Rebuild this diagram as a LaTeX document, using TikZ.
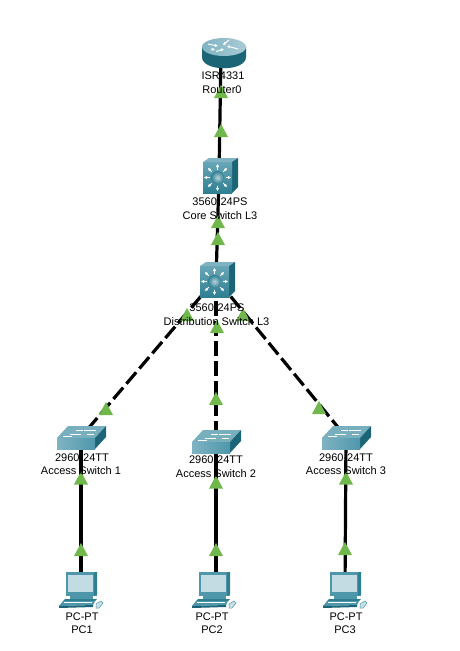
\documentclass[tikz,border=0pt]{standalone}
\usepackage{fontspec}
\usetikzlibrary{arrows.meta}
\setmainfont{Liberation Sans}
\definecolor{triG}{HTML}{70B84C}
\definecolor{tealA}{HTML}{2F7F92}
\definecolor{tealB}{HTML}{4E97AB}
\definecolor{tealC}{HTML}{7FB3C2}
\definecolor{tealD}{HTML}{1B6577}
\definecolor{tealL}{HTML}{A9CBD5}
\tikzset{
  x=1pt,y=-1pt,
  link/.style={line width=3.2pt,black},
  dlink/.style={line width=3.2pt,black,dash pattern=on 15pt off 5pt},
  dev/.style={inner sep=0pt,outer sep=0pt,minimum width=#1,minimum height=20pt},
  lbl/.style={font=\fontsize{11}{12}\selectfont,inner sep=0pt,text=black},
  tinyarrow/.style={white,line width=1pt,-{Latex[length=3pt,width=3.5pt]}},
  tri/.pic={\fill[triG] (0,-6.5) -- (7,6.5) -- (-7,6.5) -- cycle;},
  routericon/.pic={
    \shade[left color=tealD,middle color=tealL!70!white,right color=tealD] (-22,-5) -- (-22,5) .. controls (-22,20) and (22,20) .. (22,5) -- (22,-5) -- cycle;
    \shade[left color=tealC,right color=tealL] (0,-5) ellipse[x radius=22,y radius=9];
    \foreach \a/\b/\c/\d in {-16/-8/-6/-6, 14/-3/3/-6, -8/-0.5/0/-3, 5/-12/-1/-7, -13/-3/-9/-2}{
      \draw[tinyarrow] (\a,\b) -- (\c,\d);}
  },
  lthree/.pic={
    \fill[tealC] (-15,-15) -- (-9,-19) -- (20,-19) -- (14,-15) -- cycle;
    \fill[tealD] (14,-15) -- (20,-19) -- (20,10) -- (14,16) -- cycle;
    \shade[top color=tealB!85!white,bottom color=tealA] (-15,-15) rectangle (14,16);
    \foreach \a in {0,45,...,315}{
      \draw[tinyarrow] (-0.5,0.5) ++(\a:8) -- ++(\a:5.5);}
    \shade[inner color=tealL!80!white,outer color=tealA] (-0.5,0.5) circle[radius=6.5];
  },
  sw/.pic={
    \fill[tealC!85!tealB] (-24,1) -- (-13,-11) -- (25,-11) -- (14,1) -- cycle;
    \fill[tealD] (14,1) -- (25,-11) -- (25,0) -- (14,12) -- cycle;
    \shade[left color=tealC,right color=tealB] (-24,1) rectangle (14,12);
    \draw[white,line width=.8pt] (-11,-3) -- (0,-3) (-18,-1) -- (-9,-1) (3,-7) -- (15,-7) (6,-3) -- (13,-3) (-5,-7) -- (2,-7);
  },
  pcicon/.pic={
    \fill[tealB] (-15,-18) -- (16,-18) -- (16,6) -- (-15,6) -- cycle;
    \fill[tealA] (13,-18) -- (16,-18) -- (16,4) -- (13,6) -- cycle;
    \fill[tealL!70!white] (-13,-15) rectangle (12,2);
    \fill[tealB] (-11,6) -- (12,6) -- (12,9) -- (-11,9) -- cycle;
    \fill[tealA] (-16,9) -- (16,9) -- (14,11) -- (-18,11) -- cycle;
    \fill[tealB] (-18,11) -- (14,11) -- (12,15) -- (-22,16) -- cycle;
    \fill[tealD] (-22,16) -- (12,15) -- (12,17) -- (-22,18) -- cycle;
    \draw[white] (-17,12.5) -- (11,12.5);
    \fill[tealL!60!white,draw=tealB,line width=.5pt] (15,14) -- (20,11) -- (22,13) -- (18,18) -- (15,18) -- cycle;
  },
}
\begin{document}
\begin{tikzpicture}
\useasboundingbox (0,0) rectangle (459,651);
\fill[white] (0,0) rectangle (459,651);
% anchor nodes for the devices
\node[dev=44pt] (r0) at (221,54) {};
\node[dev=34pt] (core) at (219,176) {};
\node[dev=34pt] (dist) at (216,281) {};
\node[dev=48pt] (a1) at (81,437) {};
\node[dev=48pt] (a2) at (216,441) {};
\node[dev=48pt] (a3) at (346,437) {};
\node[dev=42pt] (p1) at (81,590) {};
\node[dev=42pt] (p2) at (216,590) {};
\node[dev=42pt] (p3) at (345,590) {};
% connectors
\draw[link] (r0.center) -- (core.center);
\draw[link] (core.center) -- (dist.center);
\draw[dlink] ([xshift=-2pt]dist.center) -- (a1.center);
\draw[dlink] (dist.center) -- (a2.center);
\draw[dlink] ([xshift=2pt]dist.center) -- (a3.center);
\draw[link] (a1.center) -- (p1.center);
\draw[link] (a2.center) -- (p2.center);
\draw[link] (a3.center) -- (p3.center);
% icons
\pic at (224,52) {routericon};
\pic at (218,177) {lthree};
\pic at (215,281) {lthree};
\pic at (81,437) {sw};
\pic at (216,441) {sw};
\pic at (346,437) {sw};
\pic at (81,590) {pcicon};
\pic at (214,590) {pcicon};
\pic at (345,590) {pcicon};
% link lights
\foreach \x/\y in {221/91.5,221/130.5,218/221.5,218/238.5,187/314.5,217/326.5,243/314.5,106/408.5,216/398.5,319/407.5,81/478,216/482,346/478,81/549.5,216/549.5,345/548.5}{
  \pic at (\x,\y) {tri};}
% labels
\node[lbl] (t1) at (223,76) {ISR4331};
\node[lbl] (t2) at (222,90) {Router0};
\node[lbl] (t3) at (220,202) {3560-24PS};
\node[lbl] (t4) at (220,216) {Core Switch L3};
\node[lbl] (t5) at (217,308) {3560-24PS};
\node[lbl] (t6) at (216.5,322) {Distribution Switch L3};
\node[lbl] (t7) at (82,458) {2960-24TT};
\node[lbl] (t8) at (81,471) {Access Switch 1};
\node[lbl] (t9) at (216,460) {2960-24TT};
\node[lbl] (t10) at (216,474) {Access Switch 2};
\node[lbl] (t11) at (346,458) {2960-24TT};
\node[lbl] (t12) at (346,471) {Access Switch 3};
\node[lbl] (t13) at (82,617) {PC-PT};
\node[lbl] (t14) at (82,630) {PC1};
\node[lbl] (t15) at (212,617) {PC-PT};
\node[lbl] (t16) at (212,630) {PC2};
\node[lbl] (t17) at (346,617) {PC-PT};
\node[lbl] (t18) at (345,630) {PC3};
\end{tikzpicture}
\end{document}
